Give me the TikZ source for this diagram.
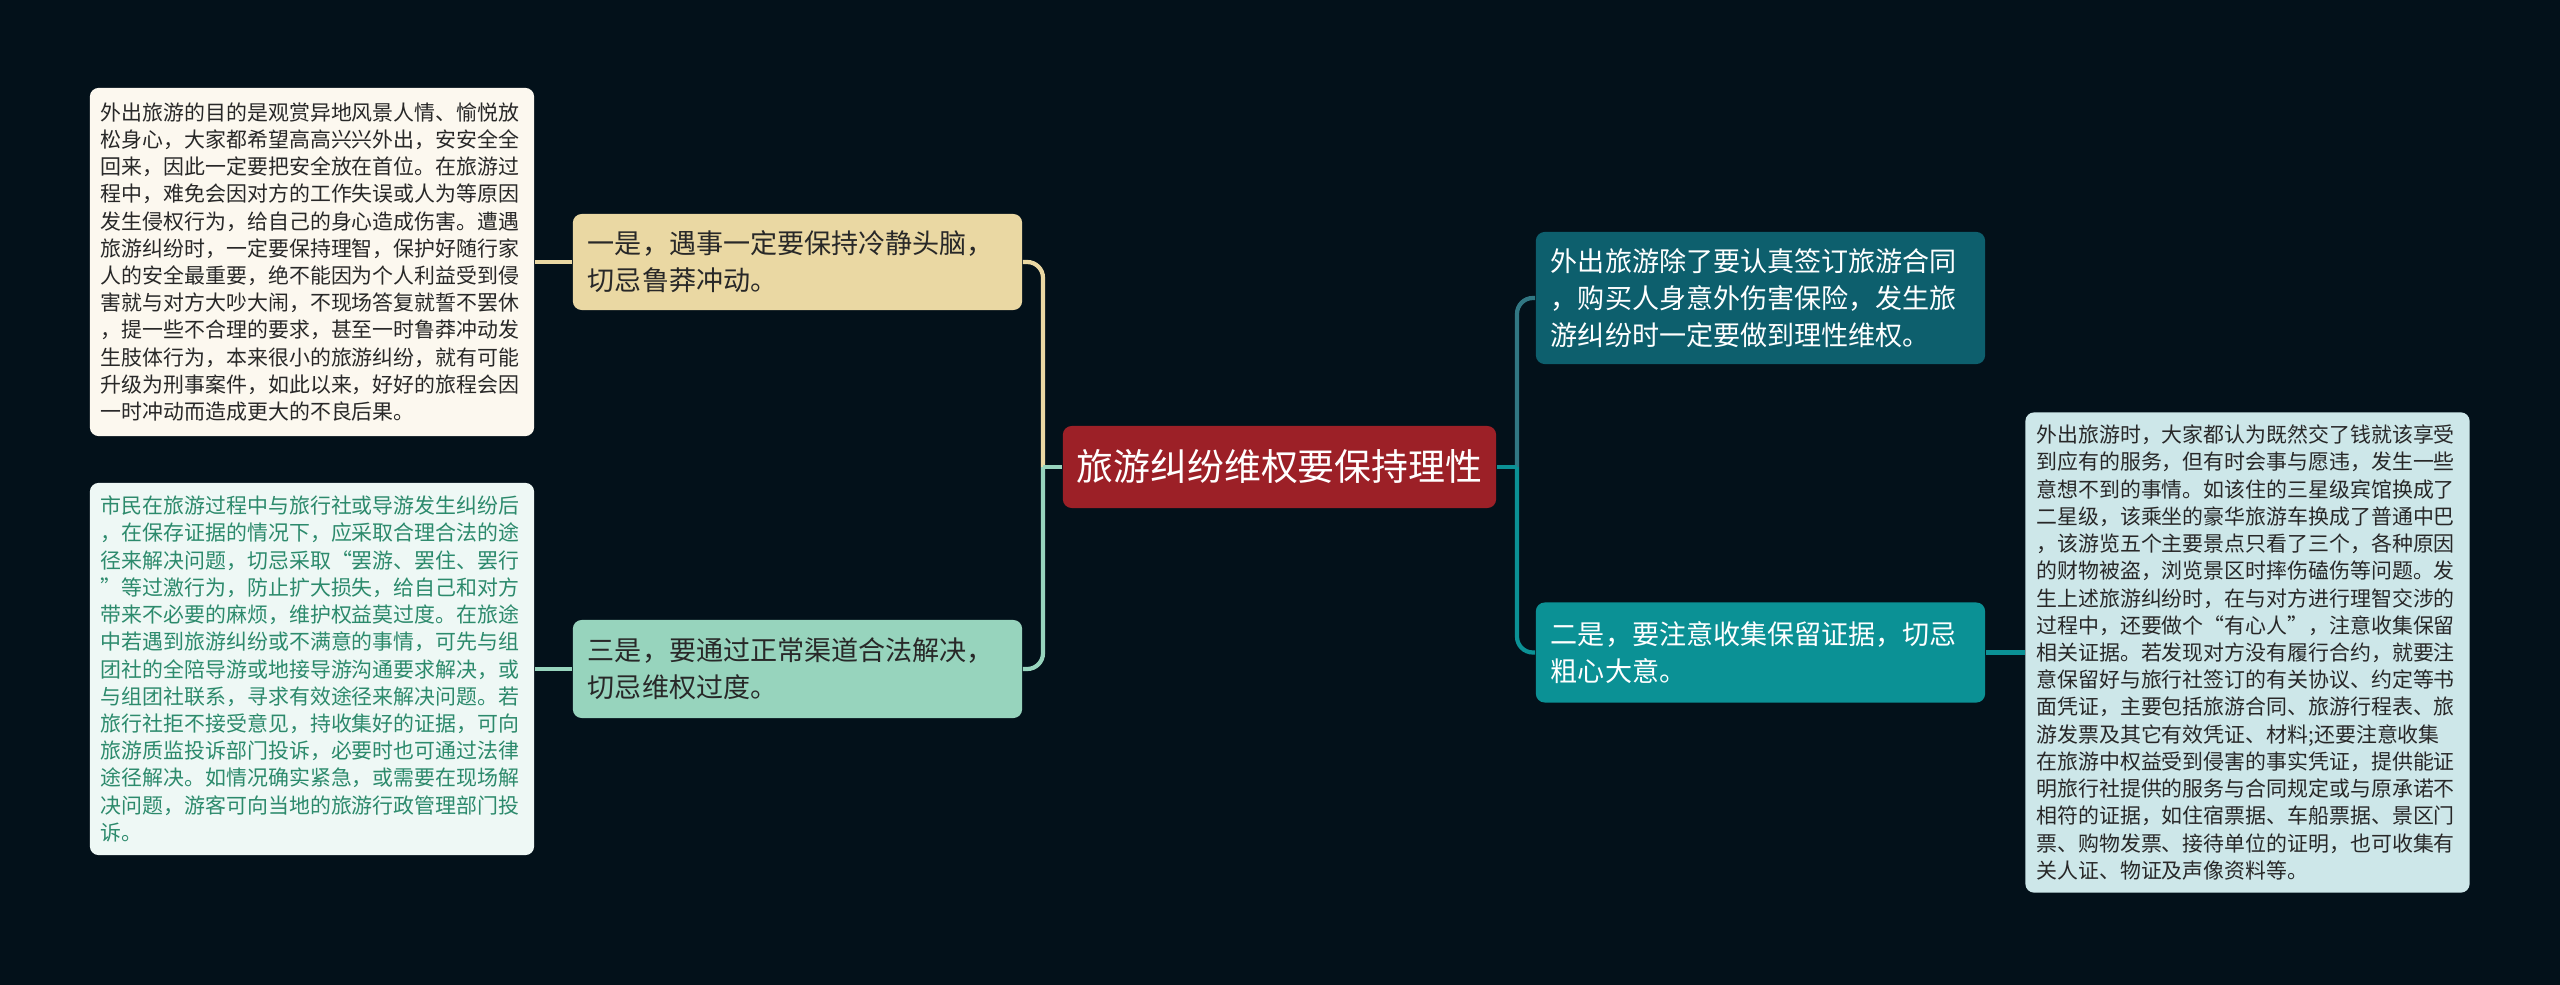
\documentclass[tikz,border=0pt]{standalone}
\usepackage{fontspec}
\newfontfamily\cjk{Noto Sans CJK SC}

\definecolor{bgnavy}{RGB}{3,17,26}
\definecolor{rootred}{RGB}{156,32,39}
\definecolor{tanfill}{RGB}{234,216,163}
\definecolor{creamfill}{RGB}{252,248,239}
\definecolor{mintfill}{RGB}{151,212,189}
\definecolor{mintpale}{RGB}{238,248,245}
\definecolor{minttext}{RGB}{44,138,108}
\definecolor{tealdark}{RGB}{13,95,109}
\definecolor{tealmid}{RGB}{11,145,149}
\definecolor{bluepale}{RGB}{205,231,233}
\definecolor{inkdark}{RGB}{40,40,40}

\newcommand{\oquote}{\makebox[1em][r]{“}}
\newcommand{\cquote}{\makebox[1em][l]{”}}

\tikzset{
  box/.style={rounded corners=2.5pt, inner sep=0pt},
  topic/.style={box, text width=4.19cm, minimum width=4.49cm, align=left,
    font=\cjk\fontsize{7.7pt}{10.45pt}\selectfont},
  detail/.style={box, text width=4.22cm, minimum width=4.44cm, align=left,
    font=\cjk\fontsize{5.95pt}{7.74pt}\selectfont},
  link/.style={line width=1.2pt, rounded corners=4.5pt},
}

\begin{document}
\begin{tikzpicture}[x=0.01cm, y=-0.01cm]
  \fill[bgnavy] (0,0) rectangle (2560,985);

  \node[box, fill=rootred, text=white, minimum width=4.33cm, minimum height=0.82cm,
    font=\cjk\fontsize{10.5pt}{12pt}\selectfont] (root) at (1279.5,467) {旅游纠纷维权要保持理性};

  \node[topic, fill=tanfill, text=inkdark, minimum height=0.96cm] (one) at (797.5,262)
    {一是，遇事一定要保持冷静头脑，\\切忌鲁莽冲动。};
  \node[topic, fill=mintfill, text=inkdark, minimum height=0.98cm] (three) at (797.5,669)
    {三是，要通过正常渠道合法解决，\\切忌维权过度。};
  \node[topic, fill=tealdark, text=white, minimum height=1.32cm] (adviceA) at (1760.5,298)
    {外出旅游除了要认真签订旅游合同\\，购买人身意外伤害保险，发生旅\\游纠纷时一定要做到理性维权。};
  \node[topic, fill=tealmid, text=white, minimum height=1.0cm] (two) at (1760.5,652.5)
    {二是，要注意收集保留证据，切忌\\粗心大意。};

  \node[detail, fill=creamfill, text=inkdark, minimum height=3.48cm] (detailOne) at (312,262)
    {外出旅游的目的是观赏异地风景人情、愉悦放\\
     松身心，大家都希望高高兴兴外出，安安全全\\
     回来，因此一定要把安全放在首位。在旅游过\\
     程中，难免会因对方的工作失误或人为等原因\\
     发生侵权行为，给自己的身心造成伤害。遭遇\\
     旅游纠纷时，一定要保持理智，保护好随行家\\
     人的安全最重要，绝不能因为个人利益受到侵\\
     害就与对方大吵大闹，不现场答复就誓不罢休\\
     ，提一些不合理的要求，甚至一时鲁莽冲动发\\
     生肢体行为，本来很小的旅游纠纷，就有可能\\
     升级为刑事案件，如此以来，好好的旅程会因\\
     一时冲动而造成更大的不良后果。};
  \node[detail, fill=mintpale, text=minttext, minimum height=3.72cm] (detailThree) at (312,669)
    {市民在旅游过程中与旅行社或导游发生纠纷后\\
     ，在保存证据的情况下，应采取合理合法的途\\
     径来解决问题，切忌采取\oquote 罢游、罢住、罢行\\
     \cquote 等过激行为，防止扩大损失，给自己和对方\\
     带来不必要的麻烦，维护权益莫过度。在旅途\\
     中若遇到旅游纠纷或不满意的事情，可先与组\\
     团社的全陪导游或地接导游沟通要求解决，或\\
     与组团社联系，寻求有效途径来解决问题。若\\
     旅行社拒不接受意见，持收集好的证据，可向\\
     旅游质监投诉部门投诉，必要时也可通过法律\\
     途径解决。如情况确实紧急，或需要在现场解\\
     决问题，游客可向当地的旅游行政管理部门投\\
     诉。};
  \node[detail, fill=bluepale, text=inkdark, minimum height=4.8cm] (detailTwo) at (2247.5,652.5)
    {外出旅游时，大家都认为既然交了钱就该享受\\
     到应有的服务，但有时会事与愿违，发生一些\\
     意想不到的事情。如该住的三星级宾馆换成了\\
     二星级，该乘坐的豪华旅游车换成了普通中巴\\
     ，该游览五个主要景点只看了三个，各种原因\\
     的财物被盗，浏览景区时摔伤磕伤等问题。发\\
     生上述旅游纠纷时，在与对方进行理智交涉的\\
     过程中，还要做个\oquote 有心人\cquote ，注意收集保留\\
     相关证据。若发现对方没有履行合约，就要注\\
     意保留好与旅行社签订的有关协议、约定等书\\
     面凭证，主要包括旅游合同、旅游行程表、旅\\
     游发票及其它有效凭证、材料;还要注意收集\\
     在旅游中权益受到侵害的事实凭证，提供能证\\
     明旅行社提供的服务与合同规定或与原承诺不\\
     相符的证据，如住宿票据、车船票据、景区门\\
     票、购物发票、接待单位的证明，也可收集有\\
     关人证、物证及声像资料等。};

  \coordinate (lhub) at (1043,467);
  \coordinate (rhub) at (1517,467);

  \draw[link, tanfill] (lhub) |- (one.east);
  \draw[link, mintfill] (lhub) |- (three.east);
  \draw[link, mintfill] (root.west) -- (lhub);
  \draw[link, tealdark!85!white] (rhub) |- (adviceA.west);
  \draw[link, tealmid] (rhub) |- (two.west);
  \draw[link, tealmid] (root.east) -- (rhub);

  \draw[link, tanfill] (one.west) -- (detailOne.east);
  \draw[link, mintfill] (three.west) -- (detailThree.east);
  \draw[link, tealmid] (two.east) -- (detailTwo.west);
\end{tikzpicture}
\end{document}
